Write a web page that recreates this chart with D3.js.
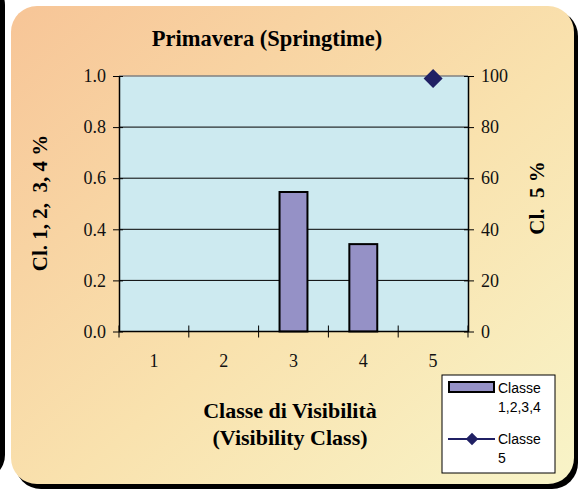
<!DOCTYPE html>
<html>
<head>
<meta charset="utf-8">
<script src="https://cdn.jsdelivr.net/npm/d3@7"></script>
<style>
  body { margin: 0; background: #fff; }
  svg { display: block; }
</style>
</head>
<body>
<svg id="chart"></svg>
<script>
var classes = [1, 2, 3, 4, 5];
var pctClass1234 = [0, 0, 0.546, 0.342, null];   // left axis
var pctClass5 = [null, null, null, null, 99];     // right axis
var leftTicks = [0, 0.2, 0.4, 0.6, 0.8, 1.0];
var rightTicks = [0, 20, 40, 60, 80, 100];

var width = 578, height = 490;
var serif = "'Book Antiqua', Palatino, 'Liberation Serif', serif";

var svg = d3.select("#chart")
    .attr("width", width)
    .attr("height", height);

var defs = svg.append("defs");
var grad = defs.append("linearGradient")
    .attr("id", "bgGrad")
    .attr("x1", "0%").attr("y1", "0%")
    .attr("x2", "100%").attr("y2", "100%");
grad.append("stop").attr("offset", "0%").attr("stop-color", "#f7c597");
grad.append("stop").attr("offset", "55%").attr("stop-color", "#f9e2ae");
grad.append("stop").attr("offset", "100%").attr("stop-color", "#f8f4c8");

// neighbouring panel edge on the left
svg.append("rect")
    .attr("x", -60).attr("y", -20)
    .attr("width", 65).attr("height", 500)
    .attr("rx", 25)
    .attr("fill", "#000");

// panel shadow + panel
svg.append("rect")
    .attr("x", 15).attr("y", 10)
    .attr("width", 563).attr("height", 479)
    .attr("rx", 26)
    .attr("fill", "#000");
svg.append("rect")
    .attr("x", 11).attr("y", 6)
    .attr("width", 563).attr("height", 478)
    .attr("rx", 26)
    .attr("fill", "url(#bgGrad)");

var plot = { left: 119, right: 468, top: 76, bottom: 331.5 };

var x = d3.scaleBand()
    .domain(classes)
    .range([plot.left, plot.right])
    .padding(0);

var yL = d3.scaleLinear().domain([0, 1]).range([plot.bottom, plot.top]);
var yR = d3.scaleLinear().domain([0, 100]).range([plot.bottom, plot.top]);

// plot area
svg.append("rect")
    .attr("x", plot.left).attr("y", plot.top)
    .attr("width", plot.right - plot.left)
    .attr("height", plot.bottom - plot.top)
    .attr("fill", "#cdeaf0");

// gridlines
svg.append("g")
  .selectAll("line")
  .data(leftTicks.filter(function(d){ return d > 0 && d < 1; }))
  .enter().append("line")
    .attr("x1", plot.left).attr("x2", plot.right)
    .attr("y1", function(d){ return yL(d); })
    .attr("y2", function(d){ return yL(d); })
    .attr("stroke", "#000").attr("stroke-width", 1);

svg.append("line")
    .attr("x1", plot.left).attr("x2", plot.right)
    .attr("y1", yL(1)).attr("y2", yL(1))
    .attr("stroke", "#808080").attr("stroke-width", 1.5);

// bars
var barW = x.bandwidth() * 0.4;
svg.append("g")
  .selectAll("rect")
  .data(classes.map(function(c, i){ return { c: c, v: pctClass1234[i] }; })
        .filter(function(d){ return d.v; }))
  .enter().append("rect")
    .attr("x", function(d){ return x(d.c) + x.bandwidth() / 2 - barW / 2; })
    .attr("y", function(d){ return yL(d.v); })
    .attr("width", barW)
    .attr("height", function(d){ return yL(0) - yL(d.v); })
    .attr("fill", "#9591c6")
    .attr("stroke", "#000")
    .attr("stroke-width", 2);

// axes
var leftAxis = d3.axisLeft(yL).tickValues(leftTicks)
    .tickFormat(d3.format(".1f")).tickSizeInner(6).tickSizeOuter(0).tickPadding(7);
var gl = svg.append("g").attr("transform", "translate(" + plot.left + ",0)").call(leftAxis);

var rightAxis = d3.axisRight(yR).tickValues(rightTicks)
    .tickSizeInner(6).tickSizeOuter(0).tickPadding(7);
var gr = svg.append("g").attr("transform", "translate(" + plot.right + ",0)").call(rightAxis);

[gl, gr].forEach(function(g){
  g.select(".domain").attr("stroke", "#000").attr("stroke-width", 1.5);
  g.selectAll(".tick line").attr("stroke", "#000");
  g.selectAll("text").attr("font-family", serif).attr("font-size", 18).attr("fill", "#111");
});
gl.selectAll(".tick line").attr("x2", 4).attr("x1", -6);
gr.selectAll(".tick line").attr("x1", -4).attr("x2", 6);

// bottom axis: ticks at band edges, labels at band centres
var bx = svg.append("g");
bx.append("line")
    .attr("x1", plot.left).attr("x2", plot.right)
    .attr("y1", plot.bottom).attr("y2", plot.bottom)
    .attr("stroke", "#000").attr("stroke-width", 1.5);
var edges = classes.map(function(c){ return x(c); }).concat([x(classes[classes.length - 1]) + x.bandwidth()]);
bx.selectAll("line.tk")
  .data(edges)
  .enter().append("line")
    .attr("class", "tk")
    .attr("x1", function(d){ return d; }).attr("x2", function(d){ return d; })
    .attr("y1", plot.bottom - 6).attr("y2", plot.bottom + 6)
    .attr("stroke", "#000");
bx.selectAll("text")
  .data(classes)
  .enter().append("text")
    .attr("x", function(d){ return x(d) + x.bandwidth() / 2; })
    .attr("y", 367)
    .attr("text-anchor", "middle")
    .attr("font-family", serif).attr("font-size", 18).attr("fill", "#111")
    .text(function(d){ return d; });

// Classe 5 series
var diamond = d3.symbol().type(d3.symbolDiamond2).size(230);
svg.append("g")
  .selectAll("path")
  .data(classes.map(function(c, i){ return { c: c, v: pctClass5[i] }; })
        .filter(function(d){ return d.v != null; }))
  .enter().append("path")
    .attr("transform", function(d){ return "translate(" + (x(d.c) + x.bandwidth() / 2) + "," + yR(d.v) + ")"; })
    .attr("d", diamond)
    .attr("fill", "#202064");

// titles
svg.append("text")
    .attr("x", 267).attr("y", 46)
    .attr("text-anchor", "middle")
    .attr("font-family", serif).attr("font-weight", "bold").attr("font-size", 22.5)
    .text("Primavera (Springtime)");

svg.append("text")
    .attr("transform", "translate(47,203) rotate(-90)")
    .attr("text-anchor", "middle")
    .attr("font-family", serif).attr("font-weight", "bold").attr("font-size", 21)
    .attr("xml:space", "preserve")
    .text("Cl. 1, 2,  3, 4 %");

svg.append("text")
    .attr("transform", "translate(544,198) rotate(-90)")
    .attr("text-anchor", "middle")
    .attr("font-family", serif).attr("font-weight", "bold").attr("font-size", 21)
    .attr("xml:space", "preserve")
    .text("Cl.  5 %");

var xt = svg.append("text")
    .attr("text-anchor", "middle")
    .attr("font-family", serif).attr("font-weight", "bold").attr("font-size", 22);
xt.append("tspan").attr("x", 290).attr("y", 418).text("Classe di Visibilità");
xt.append("tspan").attr("x", 290).attr("y", 445).text("(Visibility Class)");

// legend
var lg = svg.append("g").attr("transform", "translate(442,375)");
lg.append("rect")
    .attr("width", 113).attr("height", 98)
    .attr("fill", "#fff").attr("stroke", "#000").attr("stroke-width", 1);
lg.append("rect")
    .attr("x", 7).attr("y", 7).attr("width", 45).attr("height", 10)
    .attr("fill", "#9591c6").attr("stroke", "#000").attr("stroke-width", 2);
lg.append("line")
    .attr("x1", 6).attr("x2", 53).attr("y1", 64).attr("y2", 64)
    .attr("stroke", "#202064").attr("stroke-width", 2);
lg.append("path")
    .attr("transform", "translate(30,64)")
    .attr("d", d3.symbol().type(d3.symbolDiamond2).size(100))
    .attr("fill", "#202064");

var legendLabels = [["Classe", "1,2,3,4"], ["Classe", "5"]];
legendLabels.forEach(function(lines, i){
  var t = lg.append("text")
      .attr("font-family", "Arial, 'Liberation Sans', sans-serif")
      .attr("font-size", 14).attr("fill", "#000");
  lines.forEach(function(s, j){
    t.append("tspan").attr("x", 56).attr("y", 18 + i * 51 + j * 19).text(s);
  });
});
</script>
</body>
</html>
